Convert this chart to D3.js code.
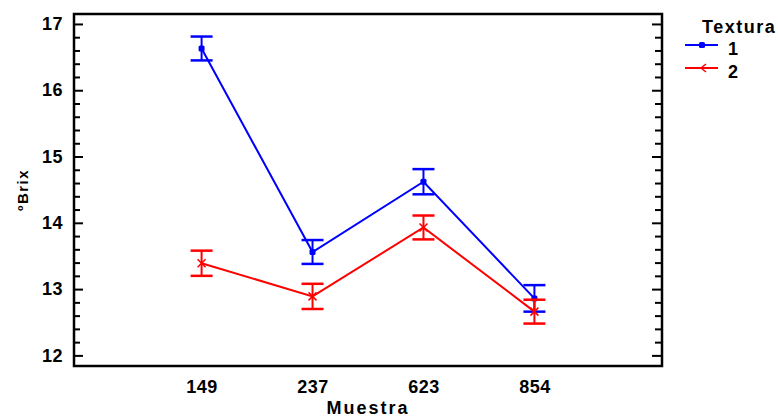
<!DOCTYPE html>
<html>
<head>
<meta charset="utf-8">
<script src="https://cdn.jsdelivr.net/npm/d3@7"></script>
<style>
  body { margin: 0; background: #fff; }
  text { font-family: "Liberation Sans", Arial, sans-serif; font-weight: bold; fill: #000; }
</style>
</head>
<body>
<div id="chart-area"></div>
<script>
// data
var muestras = ["149", "237", "623", "854"];
var textura1 = [16.63, 13.56, 14.62, 12.86];
var textura2 = [13.39, 12.89, 13.93, 12.66];
var err1 = [0.18, 0.18, 0.19, 0.20];
var err2 = [0.19, 0.19, 0.18, 0.18];
var yTicks = [12, 13, 14, 15, 16, 17];
var series = [
  {name: "1", values: textura1, err: err1, color: "#0000ff", marker: "square"},
  {name: "2", values: textura2, err: err2, color: "#ff0000", marker: "cross"}
];

var width = 778, height = 416;
var margin = {top: 14, right: 116, bottom: 50, left: 74};
var w = width - margin.left - margin.right;
var h = height - margin.top - margin.bottom;

var svg = d3.select("#chart-area").append("svg")
  .attr("width", width)
  .attr("height", height);

var g = svg.append("g")
  .attr("transform", "translate(" + margin.left + "," + margin.top + ")");

var x = d3.scalePoint().domain(muestras).range([0, w]).padding(1.15);
var y = d3.scaleLinear().domain([11.84, 17.15]).range([h, 0]);

// minor ticks every 0.2
var minor = d3.range(12, 17.01, 0.2).map(function(d) { return +d.toFixed(1); })
  .filter(function(d) { return yTicks.indexOf(d) < 0; });

// left axis
g.append("g").call(d3.axisLeft(y).tickValues(minor).tickSize(-6).tickFormat(""))
  .call(function(s) { s.select(".domain").remove(); s.selectAll("line").attr("stroke-width", 2); });
g.append("g").call(d3.axisLeft(y).tickValues(yTicks).tickSize(-9).tickPadding(11).tickFormat(d3.format("d")))
  .call(function(s) {
    s.select(".domain").remove();
    s.selectAll("line").attr("stroke-width", 2);
    s.selectAll("text").style("font-size", "18px").style("letter-spacing", "0.5px")
      .attr("font-family", null);
  });

// right axis
g.append("g").attr("transform", "translate(" + w + ",0)")
  .call(d3.axisRight(y).tickValues(minor).tickSize(-7).tickFormat(""))
  .call(function(s) { s.select(".domain").remove(); s.selectAll("line").attr("stroke-width", 2); });
g.append("g").attr("transform", "translate(" + w + ",0)")
  .call(d3.axisRight(y).tickValues(yTicks).tickSize(-10).tickFormat(""))
  .call(function(s) { s.select(".domain").remove(); s.selectAll("line").attr("stroke-width", 2); });

// bottom axis labels
g.append("g").attr("transform", "translate(0," + h + ")")
  .call(d3.axisBottom(x).tickSize(0).tickPadding(14))
  .call(function(s) {
    s.select(".domain").remove();
    s.selectAll("text").style("font-size", "18px").style("letter-spacing", "0.5px")
      .attr("font-family", null);
  });

// frame
g.append("rect")
  .attr("width", w).attr("height", h)
  .attr("fill", "none").attr("stroke", "#000").attr("stroke-width", 2.5);

var line = d3.line()
  .x(function(d, i) { return x(muestras[i]); })
  .y(function(d) { return y(d); });

series.forEach(function(s) {
  var sg = g.append("g");
  sg.append("path").datum(s.values)
    .attr("d", line).attr("fill", "none")
    .attr("stroke", s.color).attr("stroke-width", 2);

  var bars = sg.selectAll(".err").data(s.values).enter().append("g");
  bars.append("line")
    .attr("x1", function(d, i) { return x(muestras[i]); })
    .attr("x2", function(d, i) { return x(muestras[i]); })
    .attr("y1", function(d, i) { return y(d + s.err[i]); })
    .attr("y2", function(d, i) { return y(d - s.err[i]); })
    .attr("stroke", s.color).attr("stroke-width", 2);
  [1, -1].forEach(function(sign) {
    bars.append("line")
      .attr("x1", function(d, i) { return x(muestras[i]) - 11; })
      .attr("x2", function(d, i) { return x(muestras[i]) + 11; })
      .attr("y1", function(d, i) { return y(d + sign * s.err[i]); })
      .attr("y2", function(d, i) { return y(d + sign * s.err[i]); })
      .attr("stroke", s.color).attr("stroke-width", 2.5);
  });

  s.values.forEach(function(d, i) {
    drawMarker(sg, s, x(muestras[i]), y(d));
  });
});

function drawMarker(sel, s, cx, cy) {
  if (s.marker == "square") {
    sel.append("rect").attr("x", cx - 3).attr("y", cy - 3)
      .attr("width", 6).attr("height", 6).attr("rx", 1.5).attr("fill", s.color);
  } else {
    sel.append("path")
      .attr("d", "M" + (cx - 4) + "," + (cy - 4) + "L" + (cx + 4) + "," + (cy + 4) +
        "M" + (cx - 4) + "," + (cy + 4) + "L" + (cx + 4) + "," + (cy - 4))
      .attr("stroke", s.color).attr("stroke-width", 1.5);
  }
}

// axis titles
svg.append("text")
  .attr("transform", "translate(28," + (margin.top + h / 2) + ") rotate(-90)")
  .attr("text-anchor", "middle")
  .style("font-size", "15px").style("letter-spacing", "1.5px")
  .text("ºBrix");
svg.append("text")
  .attr("x", margin.left + w / 2).attr("y", 414)
  .attr("text-anchor", "middle")
  .style("font-size", "18px").style("letter-spacing", "2px")
  .text("Muestra");

// legend
var legend = svg.append("g");
legend.append("text").attr("x", 702).attr("y", 33)
  .style("font-size", "18px").style("letter-spacing", "1.5px")
  .text("Textura");
series.forEach(function(s, i) {
  var ly = 45 + i * 23;
  legend.append("line").attr("x1", 685).attr("x2", 718)
    .attr("y1", ly).attr("y2", ly)
    .attr("stroke", s.color).attr("stroke-width", 2);
  if (s.marker == "square") {
    drawMarker(legend, s, 702, ly);
  } else {
    legend.append("path")
      .attr("d", "M" + 706 + "," + (ly - 4) + "L" + 701 + "," + ly + "L" + 706 + "," + (ly + 4))
      .attr("fill", "none").attr("stroke", s.color).attr("stroke-width", 1.5);
  }
  legend.append("text").attr("x", 728).attr("y", ly + 10)
    .style("font-size", "18px")
    .text(s.name);
});
</script>
</body>
</html>
